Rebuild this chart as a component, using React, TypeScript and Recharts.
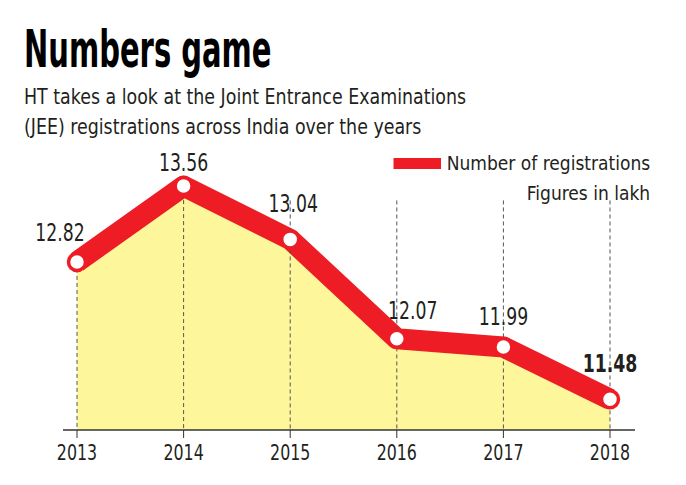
import { AreaChart, Area, XAxis, YAxis, ReferenceLine, LabelList } from "recharts";

const years = ["2013", "2014", "2015", "2016", "2017", "2018"];
const registrations = [12.82, 13.56, 13.04, 12.07, 11.99, 11.48]; // lakh

const RED = "#ee1c25";
const FILL = "#fef69a";
const INK = "#231f20";
const FONT = "'DejaVu Sans Condensed', 'DejaVu Sans', sans-serif";

const Y_MIN = 11.18;
const Y_MAX = 14.0;
// dashed guides from 2015 on rise to just under the legend
const GUIDE_TOP = 13.42;

// per-point label nudges [dx, dy]
const labelNudge: [number, number][] = [
  [-17, -29],
  [0, -23],
  [3, -36],
  [16, -28],
  [0, -30],
  [0, -36],
];

const data = years.map((year, i) => ({ year, value: registrations[i] }));

// narrow text: the font is squeezed horizontally around its anchor
const NarrowText = ({ x, y, size, squeeze, bold, children }: any) => (
  <text
    transform={`translate(${x},${y}) scale(${squeeze},1)`}
    textAnchor="middle"
    dominantBaseline="central"
    fontFamily={FONT}
    fontSize={size}
    fontWeight={bold ? 700 : 400}
    fill={INK}
  >
    {children}
  </text>
);

const ValueLabel = (props: any) => {
  const { x, y, value, index } = props;
  const [dx, dy] = labelNudge[index] || [0, -30];
  const last = index === registrations.length - 1;
  return (
    <NarrowText x={x + dx} y={y + dy} size={24} squeeze={0.8} bold={last}>
      {Number(value).toFixed(2)}
    </NarrowText>
  );
};

const YearTick = (props: any) => {
  const { x, y, payload } = props;
  return (
    <NarrowText x={x} y={y + 8} size={22} squeeze={0.8}>
      {payload.value}
    </NarrowText>
  );
};

export default function App() {
  return (
    <div style={{ position: "relative", width: 686, height: 485, background: "#fff", overflow: "hidden" }}>
      <style>{`body{margin:0}`}</style>
      <div
        style={{
          position: "absolute",
          left: 24,
          top: 23,
          fontFamily: FONT,
          fontWeight: 700,
          fontSize: 52,
          lineHeight: "52px",
          color: "#000",
          whiteSpace: "nowrap",
          transform: "scaleX(0.62)",
          transformOrigin: "left top",
        }}
      >
        Numbers game
      </div>
      <div
        style={{
          position: "absolute",
          left: 24,
          top: 82,
          fontFamily: FONT,
          fontSize: 22,
          lineHeight: "30px",
          color: INK,
          whiteSpace: "nowrap",
          transform: "scaleX(0.88)",
          transformOrigin: "left top",
        }}
      >
        HT takes a look at the Joint Entrance Examinations
        <br />
        (JEE) registrations across India over the years
      </div>
      <div
        style={{
          position: "absolute",
          right: 36,
          top: 148,
          fontFamily: FONT,
          fontSize: 20,
          lineHeight: "30px",
          color: INK,
          textAlign: "right",
          whiteSpace: "nowrap",
          transform: "scaleX(0.95)",
          transformOrigin: "right top",
          zIndex: 2,
        }}
      >
        <div style={{ display: "flex", alignItems: "center", justifyContent: "flex-end" }}>
          <span style={{ display: "inline-block", width: 50, height: 11, background: RED, marginRight: 6 }} />
          Number of registrations
        </div>
        <div>Figures in lakh</div>
      </div>
      <div style={{ position: "absolute", left: 0, top: 0 }}>
        <AreaChart width={686} height={485} data={data} margin={{ top: 141, right: 51, bottom: 25, left: 63 }}>
          <XAxis
            dataKey="year"
            height={30}
            padding={{ left: 14, right: 25 }}
            axisLine={{ stroke: "#333", strokeWidth: 1.5 }}
            tickLine={{ stroke: "#333", strokeWidth: 1 }}
            tickSize={8}
            tickMargin={7}
            tick={<YearTick />}
          />
          <YAxis hide domain={[Y_MIN, Y_MAX]} />
          {data.map((d, i) => (
            <ReferenceLine
              key={d.year}
              segment={[
                // the first two years' guides start at the point itself
                { x: d.year, y: i < 2 ? d.value : Math.max(d.value, GUIDE_TOP) },
                { x: d.year, y: Y_MIN },
              ]}
              stroke="#555"
              strokeWidth={1}
              strokeDasharray="4 3"
            />
          ))}
          <Area
            type="linear"
            dataKey="value"
            stroke={RED}
            strokeWidth={21}
            strokeLinejoin="round"
            fill={FILL}
            fillOpacity={1}
            dot={{ r: 8.5, fill: "#fff", stroke: RED, strokeWidth: 3.5 }}
            activeDot={false}
            isAnimationActive={false}
          >
            <LabelList dataKey="value" content={ValueLabel} />
          </Area>
        </AreaChart>
      </div>
    </div>
  );
}
